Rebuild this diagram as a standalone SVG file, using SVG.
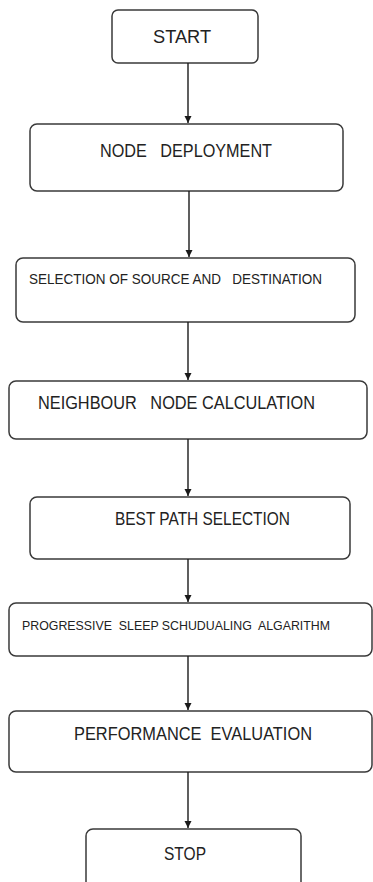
<svg xmlns="http://www.w3.org/2000/svg" width="373" height="882" viewBox="0 0 373 882">
<defs>
<marker id="ah" markerWidth="8" markerHeight="8" refX="7" refY="4" orient="auto" markerUnits="userSpaceOnUse">
<path d="M0,0.5 L7,4 L0,7.5 Z" fill="#1a1a1a"/>
</marker>
<style>
.box{fill:#fff;stroke:#3a3a3a;stroke-width:1.5}
.lbl{font-family:"Liberation Sans",Arial,sans-serif;fill:#222;white-space:pre}
.conn{stroke:#1a1a1a;stroke-width:1.4;fill:none}
</style>
</defs>
<rect width="373" height="882" fill="#fff"/>
<g id="n1"><rect class="box" x="112" y="10" width="146" height="53" rx="6"/><text class="lbl" x="153" y="43" font-size="18" textLength="58" lengthAdjust="spacingAndGlyphs">START</text></g>
<g id="n2"><rect class="box" x="30" y="124" width="313" height="67" rx="7"/><text class="lbl" x="100" y="157" font-size="18" textLength="172" lengthAdjust="spacingAndGlyphs" xml:space="preserve">NODE   DEPLOYMENT</text></g>
<g id="n3"><rect class="box" x="16" y="258" width="339" height="64" rx="7"/><text class="lbl" x="29" y="284" font-size="15" textLength="293" lengthAdjust="spacingAndGlyphs" xml:space="preserve">SELECTION OF SOURCE AND   DESTINATION</text></g>
<g id="n4"><rect class="box" x="9" y="381" width="358" height="58" rx="7"/><text class="lbl" x="38" y="409" font-size="18" textLength="277" lengthAdjust="spacingAndGlyphs" xml:space="preserve">NEIGHBOUR   NODE CALCULATION</text></g>
<g id="n5"><rect class="box" x="30" y="497" width="320" height="62" rx="7"/><text class="lbl" x="115" y="525" font-size="18" textLength="175" lengthAdjust="spacingAndGlyphs">BEST PATH SELECTION</text></g>
<g id="n6"><rect class="box" x="9" y="603" width="363" height="53" rx="7"/><text class="lbl" x="22" y="630" font-size="13" textLength="308" lengthAdjust="spacingAndGlyphs" xml:space="preserve">PROGRESSIVE  SLEEP SCHUDUALING  ALGARITHM</text></g>
<g id="n7"><rect class="box" x="9" y="711" width="363" height="61" rx="7"/><text class="lbl" x="74" y="740" font-size="18" textLength="238" lengthAdjust="spacingAndGlyphs" xml:space="preserve">PERFORMANCE  EVALUATION</text></g>
<g id="n8"><rect class="box" x="86" y="829" width="215" height="70" rx="7"/><text class="lbl" x="164" y="860" font-size="18" textLength="42" lengthAdjust="spacingAndGlyphs">STOP</text></g>
<g id="connectors">
<line class="conn" x1="188" y1="63" x2="188" y2="123" marker-end="url(#ah)"/>
<line class="conn" x1="189" y1="191" x2="189" y2="257" marker-end="url(#ah)"/>
<line class="conn" x1="188" y1="322" x2="188" y2="380" marker-end="url(#ah)"/>
<line class="conn" x1="188" y1="439" x2="188" y2="496" marker-end="url(#ah)"/>
<line class="conn" x1="188" y1="559" x2="188" y2="602" marker-end="url(#ah)"/>
<line class="conn" x1="188" y1="656" x2="188" y2="710" marker-end="url(#ah)"/>
<line class="conn" x1="188" y1="772" x2="188" y2="828" marker-end="url(#ah)"/>
</g>
</svg>
